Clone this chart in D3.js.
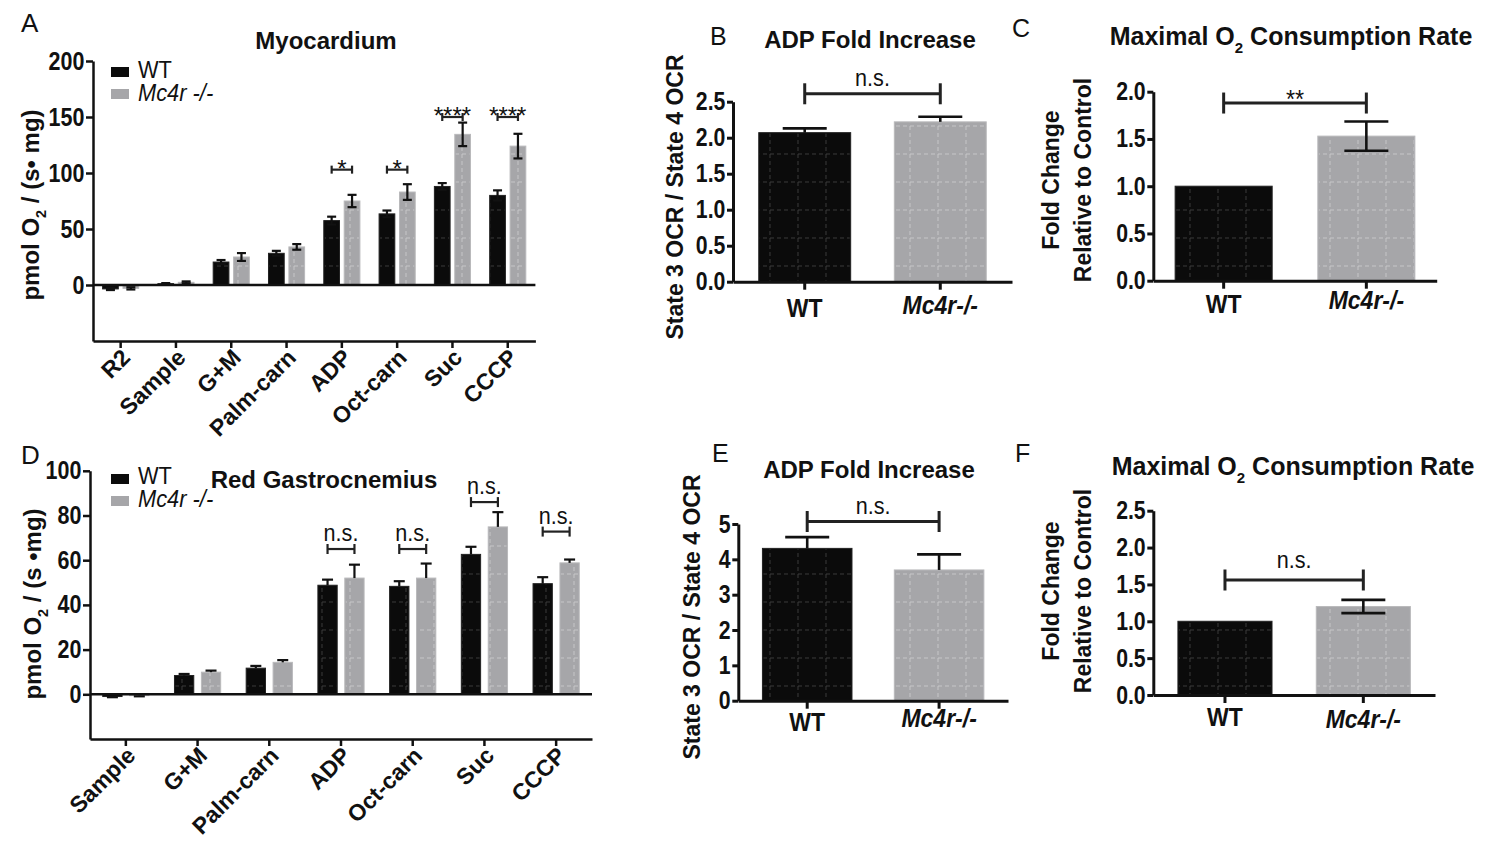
<!DOCTYPE html>
<html><head><meta charset="utf-8">
<script src="https://cdn.jsdelivr.net/npm/d3@7"></script>
<style>body{margin:0;background:#fff}</style>
</head><body>
<svg id="c" width="1500" height="856" xmlns="http://www.w3.org/2000/svg"></svg>
<script>
// ---------------- DATA ----------------
const legendGroups = ["WT", "Mc4r -/-"];
const axisGroups = ["WT", "Mc4r-/-"];

// Panel A – Myocardium
const catsA = ["R2", "Sample", "G+M", "Palm-carn", "ADP", "Oct-carn", "Suc", "CCCP"];
const wtA = [-3.5, 1.2, 20.5, 28.3, 57.5, 63.5, 88, 80];
const wtErrA = [1, 0.5, 1.8, 2.2, 3.5, 3, 3, 4.5];
const koA = [-3, 2.4, 25, 34, 75, 83, 134.5, 124];
const koErrA = [1, 0.8, 3.5, 2.5, 5.5, 7, 10.5, 11];
const sigA = ["", "", "", "", "*", "*", "****", "****"];
const sigLevelA = [null, null, null, null, 103, 103, 150, 150];
const yTicksA = [0, 50, 100, 150, 200];

// Panel D – Red Gastrocnemius
const catsD = ["Sample", "G+M", "Palm-carn", "ADP", "Oct-carn", "Suc", "CCCP"];
const wtD = [-1, 8.4, 11.7, 48.8, 48.3, 62.6, 49.5];
const wtErrD = [0.3, 0.7, 1, 2.5, 2.3, 3.4, 2.9];
const koD = [-0.6, 9.9, 14.3, 52, 52, 74.9, 58.8];
const koErrD = [0.3, 0.7, 1, 6, 6.5, 6.6, 1.5];
const sigD = ["", "", "", "n.s.", "n.s.", "n.s.", "n.s."];
const sigLevelD = [null, null, null, 65, 65, 86, 72.8];
const yTicksD = [0, 20, 40, 60, 80, 100];

// Panel B – ADP fold increase (myocardium)
const valB = [2.07, 2.22];
const errB = [0.06, 0.07];
const sigB = "n.s.", sigLevelB = 2.61;
const yTicksB = [0, 0.5, 1, 1.5, 2, 2.5];

// Panel C – Maximal O2 consumption (myocardium)
const valC = [1.0, 1.53];
const errC = [0, 0.155];
const sigC = "**", sigLevelC = 1.88;
const yTicksC = [0, 0.5, 1, 1.5, 2];

// Panel E – ADP fold increase (red gastrocnemius)
const valE = [4.31, 3.70];
const errE = [0.32, 0.44];
const sigE = "n.s.", sigLevelE = 5.07;
const yTicksE = [0, 1, 2, 3, 4, 5];

// Panel F – Maximal O2 consumption (red gastrocnemius)
const valF = [1.0, 1.2];
const errF = [0, 0.09];
const sigF = "n.s.", sigLevelF = 1.56;
const yTicksF = [0, 0.5, 1, 1.5, 2, 2.5];

// ---------------- STYLE ----------------
const FONT = "'Liberation Sans', Arial, Helvetica, sans-serif";
const INK = "#111";
const DARK = "#0b0b0b";
const GRAY = "#a6a6a9";

const svg = d3.select("#c");
svg.append("rect").attr("width", 1500).attr("height", 856).attr("fill", "#fff");

const defs = svg.append("defs");
function mkPattern(id, col) {
  const p = defs.append("pattern").attr("id", id).attr("patternUnits", "userSpaceOnUse")
    .attr("width", 28).attr("height", 28);
  p.append("line").attr("x1", 14).attr("x2", 14).attr("y1", 0).attr("y2", 28)
    .attr("stroke", col).attr("stroke-width", 1).attr("stroke-dasharray", "4,3");
  p.append("line").attr("x1", 0).attr("x2", 28).attr("y1", 14).attr("y2", 14)
    .attr("stroke", col).attr("stroke-width", 1).attr("stroke-dasharray", "4,3");
}
mkPattern("patDark", "#3a3a3a");
mkPattern("patGray", "#c6c6c8");

function txt(g, x, y, s, o = {}) {
  const t = g.append("text").attr("x", 0).attr("y", 0).text(s)
    .attr("font-family", FONT).attr("fill", INK)
    .attr("font-size", o.size || 20)
    .attr("font-weight", o.weight || "normal")
    .attr("font-style", o.style || "normal")
    .attr("text-anchor", o.anchor || "start")
    .attr("transform", `translate(${x},${y}) rotate(${o.rotate || 0}) scale(${o.sx || 1},1)`);
  return t;
}

// text with O2 subscript, optionally rotated
function o2Text(g, x, y, before, after, o = {}) {
  const t = g.append("text").attr("transform", `translate(${x},${y}) rotate(${o.rotate || 0}) scale(${o.sx || 1},1)`)
    .attr("font-family", FONT).attr("fill", INK)
    .attr("font-size", o.size).attr("font-weight", o.weight || "bold")
    .attr("text-anchor", o.anchor || "middle");
  t.append("tspan").text(before);
  t.append("tspan").text("2").attr("font-size", o.size * 0.6).attr("dy", o.size * 0.3);
  t.append("tspan").text(after).attr("dy", -o.size * 0.3);
  return t;
}

function styleAxis(sel, w, fs, sx) {
  sel.select(".domain").attr("stroke", INK).attr("stroke-width", w);
  sel.selectAll(".tick line").attr("stroke", INK).attr("stroke-width", w);
  sel.selectAll(".tick text").attr("font-family", FONT).attr("font-weight", "bold")
    .attr("font-size", fs).attr("fill", INK).attr("transform", `scale(${sx || 1},1)`);
}

function drawBar(g, x, w, y, v, fill, pat) {
  const top = Math.min(y(v), y(0)), h = Math.abs(y(v) - y(0));
  g.append("rect").attr("x", x).attr("y", top).attr("width", w).attr("height", h)
    .attr("fill", fill).attr("stroke", fill === DARK ? "#222" : "#b9b9bb").attr("stroke-width", 1);
  g.append("rect").attr("x", x + 1).attr("y", top + 1).attr("width", Math.max(0, w - 2)).attr("height", Math.max(0, h - 2))
    .attr("fill", `url(#${pat})`);
}

function drawErr(g, cx, y, v, e, both, cap, sw) {
  if (!e) return;
  const dir = v < 0 ? -1 : 1;
  const hi = v + dir * e, lo = both ? v - dir * e : v;
  g.append("line").attr("x1", cx).attr("x2", cx).attr("y1", y(lo)).attr("y2", y(hi))
    .attr("stroke", INK).attr("stroke-width", sw);
  g.append("line").attr("x1", cx - cap / 2).attr("x2", cx + cap / 2).attr("y1", y(hi)).attr("y2", y(hi))
    .attr("stroke", INK).attr("stroke-width", sw);
  if (both) g.append("line").attr("x1", cx - cap / 2).attr("x2", cx + cap / 2).attr("y1", y(lo)).attr("y2", y(lo))
    .attr("stroke", INK).attr("stroke-width", sw);
}

function drawBracket(g, x1, x2, yy, h, sw, label, labelDy, fs, sx) {
  g.append("line").attr("x1", x1).attr("x2", x2).attr("y1", yy).attr("y2", yy)
    .attr("stroke", "#222").attr("stroke-width", sw);
  [x1, x2].forEach(xx => g.append("line").attr("x1", xx).attr("x2", xx)
    .attr("y1", yy - h).attr("y2", yy + h).attr("stroke", "#222").attr("stroke-width", sw));
  txt(g, (x1 + x2) / 2, yy + labelDy, label, { size: fs, anchor: "middle", sx: sx || 1 });
}

// ---------------- GROUPED PANELS (A, D) ----------------
function grouped(c) {
  const g = svg.append("g");
  const x = d3.scaleBand().domain(c.cats).range([c.x0, c.x1]);
  const xs = d3.scaleBand().domain(["wt", "ko"]).range([0, x.bandwidth()])
    .paddingInner(c.pi).paddingOuter(c.po);
  const y = d3.scaleLinear().domain(c.yDomain).range([c.yB, c.yT]);
  const bw = xs.bandwidth();

  c.cats.forEach((cat, i) => {
    const xw = x(cat) + xs("wt"), xk = x(cat) + xs("ko");
    drawBar(g, xw, bw, y, c.wt[i], DARK, "patDark");
    drawBar(g, xk, bw, y, c.ko[i], GRAY, "patGray");
    drawErr(g, xw + bw / 2, y, c.wt[i], c.wtE[i], c.bothErr, c.cap, 2.2);
    drawErr(g, xk + bw / 2, y, c.ko[i], c.koE[i], c.bothErr, c.cap, 2.2);
    if (c.sig[i]) {
      const ns = c.sig[i] === "n.s.";
      drawBracket(g, xw + bw / 2, xk + bw / 2, y(c.sigLevel[i]), c.brH, 2.2,
        c.sig[i], ns ? -8 : 7, 24, ns ? 0.9 : 1);
    }
  });

  // zero line
  g.append("line").attr("x1", c.x0).attr("x2", c.x1).attr("y1", y(0)).attr("y2", y(0))
    .attr("stroke", INK).attr("stroke-width", 2.5);

  const ya = g.append("g").attr("transform", `translate(${c.x0},0)`)
    .call(d3.axisLeft(y).tickValues(c.yTicks).tickSize(7).tickSizeOuter(0).tickPadding(3));
  styleAxis(ya, 2.5, 25, 0.86);

  const xa = g.append("g").attr("transform", `translate(0,${c.yB})`)
    .call(d3.axisBottom(x).tickSize(7).tickSizeOuter(0).tickFormat(""));
  styleAxis(xa, 2.5, 22);
  c.cats.forEach(cat => {
    const cx = x(cat) + x.bandwidth() / 2;
    txt(g, cx + 11, c.yB + 18, cat, { size: 23, weight: "bold", anchor: "end", rotate: -45 });
  });

  // legend
  legendGroups.forEach((lab, i) => {
    g.append("rect").attr("x", c.legX).attr("y", c.legY[i]).attr("width", 18).attr("height", 10)
      .attr("fill", i ? GRAY : DARK);
    txt(g, c.legX + 27, c.legTY[i], lab, { size: 23, style: i ? "italic" : "normal", sx: 0.95 });
  });

  txt(g, c.titleX, c.titleY, c.title, { size: 24, weight: "bold", anchor: "middle" });
  o2Text(g, c.ylabX, c.ylabY, "pmol O", c.ylabAfter, { size: 24, rotate: -90 });
  txt(g, c.letX, c.letY, c.letter, { size: 26 });
}

grouped({
  cats: catsA, wt: wtA, wtE: wtErrA, ko: koA, koE: koErrA, sig: sigA, sigLevel: sigLevelA,
  yTicks: yTicksA, yDomain: [-50, 200], x0: 93, x1: 535.4, yB: 341, yT: 61,
  pi: 0.23, po: 0.47, cap: 9, brH: 4, bothErr: true,
  legX: 111, legY: [67, 89], legTY: [78, 101],
  title: "Myocardium", titleX: 326, titleY: 49,
  ylabX: 39, ylabY: 205, ylabAfter: " / (s\u2022 mg)",
  letter: "A", letX: 21, letY: 32
});

grouped({
  cats: catsD, wt: wtD, wtE: wtErrD, ko: koD, koE: koErrD, sig: sigD, sigLevel: sigLevelD,
  yTicks: yTicksD, yDomain: [-20, 100], x0: 90, x1: 592, yB: 739, yT: 470.8,
  pi: 0.283, po: 0.474, cap: 11, brH: 5, bothErr: false,
  legX: 111, legY: [474, 496], legTY: [484, 507],
  title: "Red Gastrocnemius", titleX: 324, titleY: 488,
  ylabX: 41, ylabY: 604, ylabAfter: " / (s \u2022mg)",
  letter: "D", letX: 21, letY: 464
});

// ---------------- TWO-BAR PANELS (B, C, E, F) ----------------
function twoBar(c) {
  const g = svg.append("g");
  const x = d3.scaleBand().domain(axisGroups).range([c.x0, c.x1]).paddingInner(c.pi).paddingOuter(c.po);
  const y = d3.scaleLinear().domain(c.yDomain).range([c.yB, c.yT]);
  const bw = x.bandwidth();
  axisGroups.forEach((grp, i) => {
    drawBar(g, x(grp), bw, y, c.vals[i], i ? GRAY : DARK, i ? "patGray" : "patDark");
    drawErr(g, x(grp) + bw / 2, y, c.vals[i], c.errs[i], c.bothErr && i === 1, 44, 2.6);
  });
  const cw = x(axisGroups[0]) + bw / 2, ck = x(axisGroups[1]) + bw / 2;
  drawBracket(g, cw, ck, y(c.sigLevel), 10.5, 3, c.sig, c.sigDy, c.sig === "**" ? 26 : 24, 0.9);

  const ya = g.append("g").attr("transform", `translate(${c.x0},0)`)
    .call(d3.axisLeft(y).tickValues(c.yTicks).tickSize(6).tickSizeOuter(0).tickPadding(3)
      .tickFormat(d3.format(c.fmt)));
  styleAxis(ya, 3, 25, 0.85);
  const xa = g.append("g").attr("transform", `translate(0,${c.yB})`)
    .call(d3.axisBottom(x).tickSize(8).tickSizeOuter(0).tickFormat(""));
  styleAxis(xa, 3, 22);
  axisGroups.forEach((grp, i) => {
    txt(g, x(grp) + bw / 2, c.labY[i], grp, { size: 25, weight: "bold", anchor: "middle", style: i ? "italic" : "normal", sx: 0.92 });
  });

  if (c.o2title) o2Text(g, c.titleX, c.titleY, "Maximal O", " Consumption Rate", { size: 25, rotate: 0 });
  else txt(g, c.titleX, c.titleY, c.title, { size: 24, weight: "bold", anchor: "middle" });

  c.ylab.forEach((l, i) => txt(g, c.ylabX[i], c.ylabY, l, { size: 23, weight: "bold", anchor: "middle", rotate: -90 }));
  txt(g, c.letX, c.letY, c.letter, { size: 25 });
}

twoBar({
  vals: valB, errs: errB, sig: sigB, sigLevel: sigLevelB, sigDy: -8, yTicks: yTicksB, fmt: ".1f",
  yDomain: [0, 2.5], x0: 733, x1: 1012, yB: 281.7, yT: 101.7, pi: 0.322, po: 0.19, bothErr: false,
  labY: [317, 314], title: "ADP Fold Increase", titleX: 870, titleY: 48,
  ylab: ["State 3 OCR / State 4 OCR"], ylabX: [683], ylabY: 197, letter: "B", letX: 710, letY: 45
});
twoBar({
  vals: valC, errs: errC, sig: sigC, sigLevel: sigLevelC, sigDy: 5, yTicks: yTicksC, fmt: ".1f",
  yDomain: [0, 2], x0: 1153.3, x1: 1436.7, yB: 280.7, yT: 91.7, pi: 0.32, po: 0.153, bothErr: true,
  labY: [313, 309], o2title: true, titleX: 1291, titleY: 45,
  ylab: ["Fold Change", "Relative to Control"], ylabX: [1059, 1091], ylabY: 180, letter: "C", letX: 1012, letY: 37
});
twoBar({
  vals: valE, errs: errE, sig: sigE, sigLevel: sigLevelE, sigDy: -8, yTicks: yTicksE, fmt: "d",
  yDomain: [0, 5], x0: 738.3, x1: 1008, yB: 700.7, yT: 524, pi: 0.321, po: 0.183, bothErr: false,
  labY: [731, 727], title: "ADP Fold Increase", titleX: 869, titleY: 478,
  ylab: ["State 3 OCR / State 4 OCR"], ylabX: [700], ylabY: 617, letter: "E", letX: 712, letY: 462
});
twoBar({
  vals: valF, errs: errF, sig: sigF, sigLevel: sigLevelF, sigDy: -12, yTicks: yTicksF, fmt: ".1f",
  yDomain: [0, 2.5], x0: 1153.3, x1: 1435, yB: 695, yT: 510.7, pi: 0.32, po: 0.178, bothErr: true,
  labY: [726, 728], o2title: true, titleX: 1293, titleY: 475,
  ylab: ["Fold Change", "Relative to Control"], ylabX: [1059, 1091], ylabY: 591, letter: "F", letX: 1015, letY: 462
});
</script>
</body></html>
